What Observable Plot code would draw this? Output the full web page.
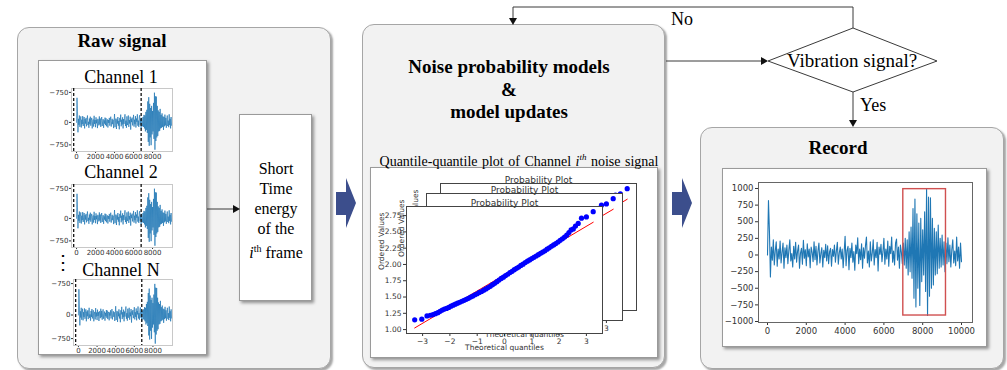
<!DOCTYPE html>
<html><head><meta charset="utf-8">
<script src="https://cdn.jsdelivr.net/npm/d3@7"></script>
<script src="https://cdn.jsdelivr.net/npm/@observablehq/plot@0.6"></script>
<style>
body{margin:0;background:#fff;}
#root{position:relative;width:1007px;height:370px;overflow:hidden;font-family:"Liberation Serif","Times New Roman",serif;color:#000;}
.abs{position:absolute;}
.panel{position:absolute;background:#f2f2f2;border:1px solid #a6a6a6;border-radius:12px;box-shadow:2px 2px 2px rgba(0,0,0,.35);box-sizing:border-box;}
.wbox{position:absolute;background:#fff;border:1px solid #9a9a9a;box-shadow:2px 2px 3px rgba(0,0,0,.4);box-sizing:border-box;}
.t{position:absolute;text-align:center;white-space:nowrap;}
.b{font-weight:bold;font-size:19px;}
.chev{position:absolute;width:20px;height:50px;background:#3c4e8c;clip-path:polygon(0 28%,50% 28%,50% 0,100% 50%,50% 100%,50% 74%,0 74%);}
svg.plot{background:transparent;overflow:visible;}
</style></head>
<body><div id="root">
<div class="panel" style="left:17px;top:27px;width:314px;height:342px"></div>
<div class="panel" style="left:362px;top:24px;width:303px;height:344px"></div>
<div class="panel" style="left:700px;top:127px;width:304px;height:242px"></div>
<div class="wbox" style="left:38px;top:60px;width:169px;height:295px"></div>
<div class="wbox" style="left:239px;top:114px;width:73px;height:187px"></div>
<div class="wbox" style="left:370px;top:167px;width:288px;height:191px"></div>
<div class="wbox" style="left:722px;top:168px;width:265px;height:179px"></div>
<div class="chev" style="left:336px;top:178px"></div>
<div class="chev" style="left:672px;top:178px"></div>

<div class="t b" style="left:22px;width:200px;top:29px;line-height:24px">Raw signal</div>
<div class="t" style="left:21px;width:200px;top:66px;font-size:18px;line-height:22px">Channel 1</div>
<div class="t" style="left:21px;width:200px;top:161px;font-size:18px;line-height:22px">Channel 2</div>
<div class="t" style="left:21px;width:200px;top:259px;font-size:18px;line-height:22px">Channel N</div>
<div class="t" style="left:53px;width:20px;top:251px;font-size:20px;line-height:22px">⋮</div>
<div class="t" style="left:226px;width:100px;top:159px;font-size:16px;line-height:20px">Short<br>Time<br>energy<br>of the<br><i>i</i><sup style="font-size:10px">th</sup> frame</div>
<div class="t b" style="left:359px;width:300px;top:56px;line-height:22.5px">Noise probability models<br>&amp;<br>model updates</div>
<div class="t" style="left:369px;width:300px;top:148px;font-size:14px;line-height:18px;word-spacing:1px">Quantile-quantile plot of Channel <i>i<sup style="font-size:9px">th</sup></i> noise signal</div>
<div class="t b" style="left:738px;width:200px;top:136px;line-height:24px">Record</div>

<div id="plots"></div>

<svg class="abs" style="left:0;top:0" width="1007" height="370">
<g fill="none" stroke="#3a3a3a" stroke-width="1">
<path d="M853,28V7H513V20"/>
<path d="M666,61H762"/>
<path d="M853,92V122"/>
<path d="M207,209H234"/>
<polygon points="768,61 853,28 937,61 853,92" fill="#fff"/>
</g>
<g fill="#111">
<polygon points="509,18 517,18 513,25"/>
<polygon points="761,57 761,65 768,61"/>
<polygon points="849,120 857,120 853,127"/>
<polygon points="233,205 233,213 240,209"/>
</g>
<text x="852" y="67" text-anchor="middle" font-family="Liberation Serif" font-size="19">Vibration signal?</text>
<text x="671" y="25" font-family="Liberation Serif" font-size="18">No</text>
<text x="860" y="111" font-family="Liberation Serif" font-size="18">Yes</text>
</svg>
</div>
<script>
// ---- data ----
const sampleStep = 50;
const signal = [
0, 820, 350, -330, 120, -80, 230, -150, 60, 200,
-170, 90, -60, 210, -120, 40, 180, -200, 110, -40,
150, -130, 70, 230, -90, 20, -180, 130, -60, 190,
-110, 60, 150, -200, 30, 100, -140, 220, -50, 80,
-160, 170, -30, 90, -190, 120, 40, -100, 200, -70,
130, -150, 60, 180, -120, 20, 110, -180, 70, -40,
160, -90, 140, -130, 50, 100, -170, 80, -20, 150,
-110, 60, 190, -140, 30, 120, -60, 90, -190, 40,
280, -160, 70, 130, -220, 100, -40, 180, -110, 50,
-230, 150, 20, 260, -130, 90, -70, 170, -200, 110,
-50, 140, 270, -120, 60, -180, 200, -90, 30, 230,
-150, 80, -40, 190, -240, 120, 10, 160, -100, 50,
250, -140, 90, -60, 210, -170, 130, 20, 270, -110,
60, -150, 180, 240, -80, 120, -200, 150, 40, -130,
180, -150, 250, -200, 230, -300, 350, -250, 420, -350,
700, -650, 840, -780, 620, -500, 480, -760, 550, -400,
380, -300, 650, -550, 990, -910, 870, -620, 860, -500,
550, -450, 400, -300, 350, -280, 450, -200, 250, -180,
300, -150, 200, -250, 180,
-130, 260, -100, 150, -180, 80, 230, -120, 60, -160, 270, -90, 120, -200, 180, -100
];
const channelDashX = [-300, 6800];
const channelXTicks = [0, 2000, 4000, 6000, 8000];
const channelYTickValues = [1000, 0, -750];
const channelYTickLabels = ["\u2212750", "0", "\u2212750"];
const recordXTicks = [0, 2000, 4000, 6000, 8000, 10000];
const recordYTicks = [1000, 750, 500, 250, 0, -250, -500, -750, -1000];
const recordBoxX = [7000, 9200];
const recordBoxY = [-910, 990];
const qqTheoretical = [-3.29,-3.03,-2.84,-2.72,-2.62,-2.53,-2.44,-2.36,-2.28,-2.2,-2.12,-2.04,-1.96,-1.88,-1.8,-1.72,-1.64,-1.56,-1.48,-1.4,-1.32,-1.24,-1.16,-1.08,-1.0,-0.92,-0.84,-0.76,-0.68,-0.6,-0.52,-0.44,-0.36,-0.28,-0.2,-0.12,-0.04,0.04,0.12,0.2,0.28,0.36,0.44,0.52,0.6,0.68,0.76,0.84,0.92,1.0,1.08,1.16,1.24,1.32,1.4,1.48,1.56,1.64,1.72,1.8,1.88,1.96,2.04,2.12,2.2,2.28,2.36,2.44,2.52,2.6,2.7,2.82,3.0,3.25];
const qqOrdered = [1.15,1.16,1.21,1.22,1.23,1.245,1.26,1.28,1.30,1.315,1.325,1.34,1.36,1.375,1.39,1.405,1.42,1.435,1.45,1.465,1.48,1.50,1.515,1.535,1.55,1.57,1.585,1.605,1.625,1.645,1.665,1.69,1.71,1.735,1.76,1.785,1.805,1.83,1.85,1.875,1.895,1.92,1.94,1.96,1.985,2.005,2.03,2.05,2.07,2.09,2.11,2.13,2.15,2.17,2.19,2.21,2.235,2.255,2.28,2.30,2.32,2.345,2.37,2.395,2.42,2.45,2.49,2.53,2.545,2.59,2.63,2.71,2.73,2.81];
const qqLineX = [-3.29, 3.25];
const qqLineY = [1.025, 2.648];
const qqXTicks = [-3, -2, -1, 0, 1, 2, 3];
const qqYTicks = [1.0, 1.25, 1.5, 1.75, 2.0, 2.25, 2.5, 2.75];
const qqTitle = "Probability Plot";
const qqXLabel = "Theoretical quantiles";
const qqYLabel = "Ordered Values";

// ---- tables ----
const sig = signal.map((v, i) => ({t: i * sampleStep, v}));
const qq = qqTheoretical.map((x, i) => ({x, y: qqOrdered[i]}));
const qqLine = qqLineX.map((x, i) => ({x, y: qqLineY[i]}));
const root = document.getElementById("plots");
function place(el, left, top) {
  el.style.position = "absolute"; el.style.left = left + "px"; el.style.top = top + "px";
  root.appendChild(el);
}
const chLabel = new Map(channelYTickValues.map((d, i) => [d, channelYTickLabels[i]]));
function channel(left, top, width, height, frameW, frameH) {
  place(Plot.plot({
    width, height, marginLeft: 31, marginTop: 6, marginRight: width - 31 - frameW, marginBottom: height - 6 - frameH,
    style: {fontFamily: "DejaVu Sans", fontSize: "7px", background: "transparent", color: "#333"},
    x: {domain: [-530, 10100], ticks: channelXTicks, tickSize: 2, tickPadding: 1, label: null, tickFormat: "d"},
    y: {domain: [-970, 1130], ticks: channelYTickValues, tickFormat: d => chLabel.get(d), tickSize: 2, tickPadding: 1, label: null},
    marks: [
      Plot.frame({stroke: "#c8c8c8"}),
      Plot.line(sig, {x: "t", y: "v", stroke: "#1f77b4", strokeWidth: 0.7}),
      Plot.ruleX(channelDashX, {stroke: "#111", strokeWidth: 1.3, strokeDasharray: "3,2"})
    ]
  }), left, top);
}
channel(40, 82, 140, 82, 101, 63);
channel(40, 178, 140, 82, 101, 63);
channel(42, 273, 140, 86, 99, 66);

// record
place(Plot.plot({
  width: 265, height: 179, marginLeft: 36, marginTop: 14, marginRight: 15, marginBottom: 25,
  style: {fontFamily: "DejaVu Sans", fontSize: "8.5px", background: "transparent", color: "#333"},
  x: {domain: [-464, 10567], ticks: recordXTicks, tickFormat: "d", tickSize: 3, tickPadding: 2, label: null},
  y: {domain: [-1015, 1090], ticks: recordYTicks, tickFormat: "d", tickSize: 3, tickPadding: 2, label: null},
  marks: [
    Plot.frame({stroke: "#666"}),
    Plot.line(sig, {x: "t", y: "v", stroke: "#1f77b4", strokeWidth: 1.1}),
    Plot.rect([{x1: recordBoxX[0], x2: recordBoxX[1], y1: recordBoxY[0], y2: recordBoxY[1]}], {x1: "x1", x2: "x2", y1: "y1", y2: "y2", fill: "none", stroke: "#d05050", strokeWidth: 1.4})
  ]
}), 722, 168);

// QQ stack
function qqPlot(left, top, front) {
  place(Plot.plot({
    width: 240, height: 175, marginLeft: 36, marginTop: 20, marginRight: 8, marginBottom: 28,
    style: {fontFamily: "DejaVu Sans", fontSize: "7.5px", background: "transparent", color: "#333"},
    x: {domain: [-3.59, 3.59], ticks: qqXTicks, tickSize: 3, tickPadding: 2, label: null},
    y: front
      ? {domain: [0.94, 2.89], ticks: qqYTicks, tickFormat: ".2f", tickSize: 3, tickPadding: 2, label: null}
      : {domain: [0.94, 2.89], axis: null},
    marks: [
      Plot.frame({fill: "#fff", stroke: "#444"}),
      Plot.line(qqLine, {x: "x", y: "y", stroke: "red", strokeWidth: 1}),
      Plot.dot(qq, {x: "x", y: "y", r: 2.6, fill: "blue"}),
      Plot.text([qqTitle], {frameAnchor: "top", dy: -7, fontSize: 9, fill: "#333"}),
      Plot.text([qqXLabel], {frameAnchor: "bottom", dy: 16, fontSize: 7.5, fill: "#333"}),
      Plot.text([qqYLabel], {frameAnchor: "left", dx: -25, rotate: -90, fontSize: 7.5, fill: "#333"})
    ]
  }), left, top);
}
qqPlot(404, 163, false);
qqPlot(390, 173, false);
qqPlot(370, 186, true);
</script>
</body></html>
